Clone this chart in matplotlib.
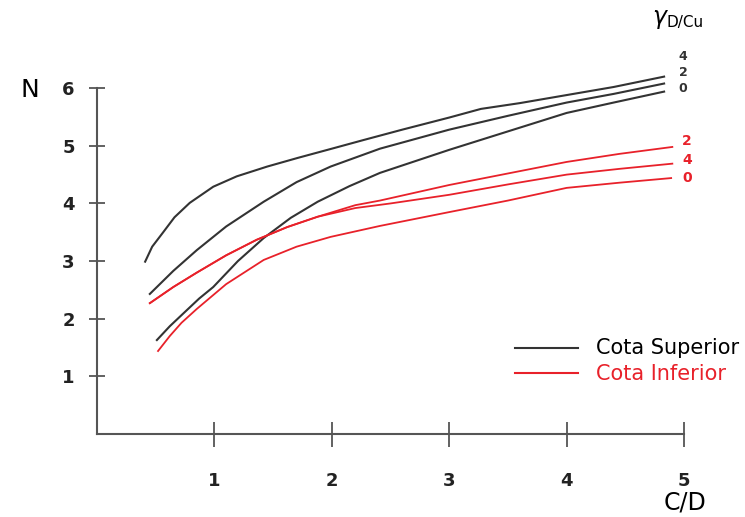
import matplotlib
matplotlib.use("Agg")
import matplotlib.pyplot as plt

# Cota Superior (black), keyed by gamma D/Cu
sup_x_4 = [0.41, 0.47, 0.56, 0.66, 0.79, 0.99, 1.19, 1.45, 1.71, 2.0, 2.27, 2.6, 3.0, 3.27, 3.6, 4.0, 4.4, 4.83]
sup_y_4 = [2.99, 3.25, 3.49, 3.76, 4.01, 4.29, 4.47, 4.64, 4.79, 4.95, 5.1, 5.28, 5.49, 5.64, 5.74, 5.88, 6.02, 6.2]
sup_x_2 = [0.45, 0.65, 0.85, 1.1, 1.42, 1.7, 1.99, 2.41, 3.0, 3.5, 4.0, 4.4, 4.83]
sup_y_2 = [2.43, 2.83, 3.19, 3.6, 4.03, 4.37, 4.64, 4.95, 5.28, 5.52, 5.75, 5.9, 6.08]
sup_x_0 = [0.51, 0.62, 0.75, 0.87, 0.99, 1.2, 1.42, 1.65, 1.88, 2.15, 2.41, 3.0, 3.5, 4.0, 4.4, 4.83]
sup_y_0 = [1.63, 1.87, 2.12, 2.35, 2.55, 3.0, 3.4, 3.75, 4.03, 4.3, 4.53, 4.93, 5.25, 5.57, 5.75, 5.94]

# Cota Inferior (red)
inf_x_2 = [0.45, 0.65, 0.85, 1.1, 1.36, 1.62, 1.88, 2.2, 2.41, 3.0, 3.5, 4.0, 4.45, 4.9]
inf_y_2 = [2.27, 2.55, 2.8, 3.1, 3.37, 3.59, 3.77, 3.97, 4.05, 4.32, 4.52, 4.72, 4.86, 4.98]
inf_x_4 = [0.45, 0.65, 0.85, 1.1, 1.36, 1.62, 1.88, 2.2, 2.5, 3.0, 3.5, 4.0, 4.45, 4.9]
inf_y_4 = [2.27, 2.55, 2.8, 3.1, 3.37, 3.59, 3.77, 3.92, 4.0, 4.15, 4.33, 4.5, 4.6, 4.69]
inf_x_0 = [0.52, 0.62, 0.72, 0.85, 1.1, 1.42, 1.7, 1.99, 2.41, 3.0, 3.5, 4.0, 4.45, 4.89]
inf_y_0 = [1.44, 1.7, 1.93, 2.17, 2.6, 3.02, 3.25, 3.42, 3.61, 3.85, 4.05, 4.27, 4.36, 4.44]

x_ticks = [1, 2, 3, 4, 5]
y_ticks = [1, 2, 3, 4, 5, 6]

black = "#333333"
red = "#e8212a"
axis_col = "#555555"

fig = plt.figure(figsize=(7.45, 5.17), dpi=100)
ax = fig.add_axes([0.1302, 0.1605, 0.788, 0.669])

for xs, ys in [(sup_x_4, sup_y_4), (sup_x_2, sup_y_2), (sup_x_0, sup_y_0)]:
    ax.plot(xs, ys, color=black, lw=1.5, clip_on=False, solid_joinstyle="round")
for xs, ys in [(inf_x_2, inf_y_2), (inf_x_4, inf_y_4), (inf_x_0, inf_y_0)]:
    ax.plot(xs, ys, color=red, lw=1.3, clip_on=False, solid_joinstyle="round")

ax.set_xlim(0, 5)
ax.set_ylim(0, 6)
for s in ["top", "right"]:
    ax.spines[s].set_visible(False)
for s in ["left", "bottom"]:
    ax.spines[s].set_color(axis_col)
    ax.spines[s].set_linewidth(1.5)

ax.set_xticks(x_ticks)
ax.set_yticks(y_ticks)
ax.tick_params(axis="x", direction="inout", length=18, width=1.3, color=axis_col,
               pad=18, labelsize=13)
ax.tick_params(axis="y", direction="inout", length=12, width=1.3, color=axis_col,
               pad=10, labelsize=13)
for t in ax.get_xticklabels() + ax.get_yticklabels():
    t.set_fontweight("bold")
    t.set_color("#222222")

# axis titles
fig.text(30 / 745, 1 - 90 / 517, "N", fontsize=18, ha="center", va="center")
fig.text(685 / 745, 1 - 503 / 517, "C/D", fontsize=17, ha="center", va="center")

# gamma header
fig.text(652 / 745, 1 - 19 / 517, r"$\gamma$", fontsize=17, ha="left", va="center")
fig.text(667 / 745, 1 - 23 / 517, "D/Cu", fontsize=11, ha="left", va="center")

# curve labels
for lbl, py in [("4", 57), ("2", 72), ("0", 88)]:
    fig.text(683 / 745, 1 - py / 517, lbl, fontsize=9, fontweight="bold",
             color=black, ha="center", va="center")
for lbl, py in [("2", 141), ("4", 160), ("0", 178)]:
    fig.text(687 / 745, 1 - py / 517, lbl, fontsize=10, fontweight="bold",
             color=red, ha="center", va="center")

# legend
fig.add_artist(plt.Line2D([515 / 745, 578 / 745], [1 - 348 / 517] * 2, color=black, lw=1.5))
fig.add_artist(plt.Line2D([515 / 745, 578 / 745], [1 - 373 / 517] * 2, color=red, lw=1.5))
fig.text(596 / 745, 1 - 348 / 517, "Cota Superior", fontsize=15, color="black", va="center")
fig.text(596 / 745, 1 - 374 / 517, "Cota Inferior", fontsize=15, color=red, va="center")

fig.savefig("out.png", dpi=100)
